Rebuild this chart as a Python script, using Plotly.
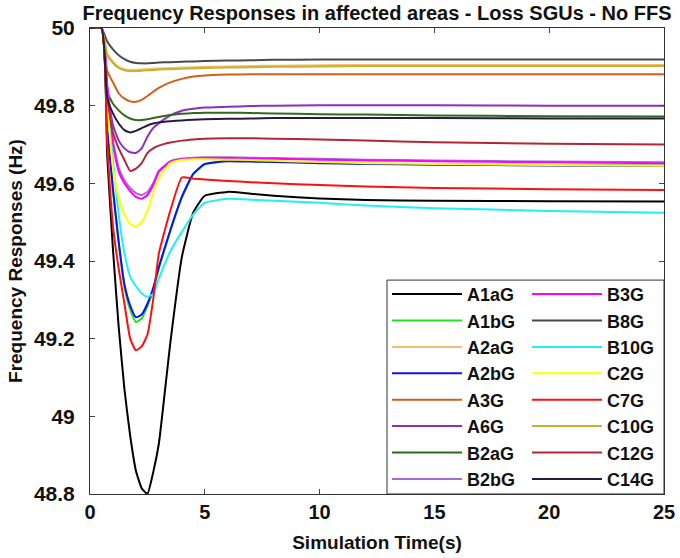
import plotly.graph_objects as go

time_s = [0, 0.5, 0.75, 1.0, 1.25, 1.5, 1.75, 2.0, 2.25, 2.5, 2.75, 3.0, 3.5, 4.0, 4.5, 5.0, 6.0, 7.0, 8.0, 10, 12, 15, 20, 25]

A1aG = [50, 50, 49.67, 49.43, 49.23, 49.07, 48.95, 48.86, 48.815, 48.80, 48.855, 48.93, 49.19, 49.41, 49.525, 49.568, 49.578, 49.573, 49.568, 49.561, 49.557, 49.555, 49.554, 49.553]
A1bG = [50, 50, 49.75, 49.58, 49.445, 49.333, 49.275, 49.243, 49.252, 49.283, 49.325, 49.381, 49.477, 49.563, 49.623, 49.649, 49.658, 49.657, 49.656, 49.653, 49.651, 49.649, 49.647, 49.646]
A2aG = [50, 50, 49.935, 49.913, 49.9, 49.894, 49.892, 49.892, 49.893, 49.894, 49.895, 49.896, 49.897, 49.898, 49.899, 49.9, 49.901, 49.902, 49.903, 49.904, 49.905, 49.905, 49.905, 49.905]
A2bG = [50, 50, 49.75, 49.585, 49.45, 49.34, 49.285, 49.255, 49.262, 49.29, 49.33, 49.385, 49.48, 49.565, 49.625, 49.65, 49.657, 49.656, 49.655, 49.652, 49.65, 49.648, 49.646, 49.645]
A3G = [50, 50, 49.89, 49.86, 49.832, 49.818, 49.811, 49.81, 49.815, 49.825, 49.836, 49.846, 49.86, 49.869, 49.875, 49.878, 49.88, 49.881, 49.881, 49.881, 49.881, 49.881, 49.881, 49.881]
A6G = [50, 50, 49.84, 49.75, 49.71, 49.69, 49.68, 49.678, 49.69, 49.72, 49.742, 49.755, 49.775, 49.787, 49.792, 49.795, 49.797, 49.799, 49.8, 49.801, 49.801, 49.801, 49.8, 49.8]
B2aG = [50, 50, 49.835, 49.805, 49.788, 49.775, 49.767, 49.763, 49.763, 49.765, 49.768, 49.771, 49.776, 49.779, 49.781, 49.782, 49.782, 49.781, 49.78, 49.778, 49.777, 49.775, 49.773, 49.772]
B2bG = [50, 50, 49.855, 49.71, 49.64, 49.608, 49.588, 49.575, 49.57, 49.578, 49.6, 49.632, 49.657, 49.664, 49.666, 49.667, 49.667, 49.666, 49.665, 49.663, 49.661, 49.659, 49.656, 49.654]
B3G = [50, 50, 49.85, 49.70, 49.63, 49.60, 49.58, 49.565, 49.56, 49.57, 49.595, 49.63, 49.655, 49.662, 49.664, 49.665, 49.665, 49.664, 49.663, 49.661, 49.659, 49.657, 49.654, 49.652]
B8G = [50, 50, 49.965, 49.945, 49.93, 49.92, 49.913, 49.91, 49.909, 49.909, 49.91, 49.911, 49.912, 49.913, 49.914, 49.915, 49.916, 49.917, 49.918, 49.919, 49.919, 49.919, 49.919, 49.919]
B10G = [50, 50, 49.80, 49.66, 49.52, 49.42, 49.36, 49.335, 49.317, 49.308, 49.315, 49.355, 49.425, 49.475, 49.52, 49.55, 49.56, 49.558, 49.555, 49.55, 49.543, 49.536, 49.529, 49.524]
C2G = [50, 50, 49.80, 49.64, 49.56, 49.52, 49.495, 49.488, 49.50, 49.53, 49.574, 49.613, 49.652, 49.66, 49.662, 49.662, 49.661, 49.66, 49.658, 49.655, 49.652, 49.65, 49.647, 49.645]
C7G = [50, 50, 49.70, 49.49, 49.38, 49.29, 49.20, 49.17, 49.18, 49.21, 49.30, 49.42, 49.53, 49.615, 49.612, 49.61, 49.606, 49.603, 49.60, 49.596, 49.592, 49.588, 49.585, 49.583]
C10G = [50, 50, 49.93, 49.91, 49.897, 49.891, 49.889, 49.889, 49.89, 49.891, 49.892, 49.893, 49.894, 49.895, 49.896, 49.897, 49.898, 49.899, 49.9, 49.901, 49.902, 49.902, 49.902, 49.902]
C12G = [50, 50, 49.82, 49.73, 49.69, 49.66, 49.632, 49.638, 49.652, 49.678, 49.69, 49.697, 49.705, 49.71, 49.713, 49.715, 49.716, 49.716, 49.715, 49.713, 49.71, 49.706, 49.702, 49.70]
C14G = [50, 50, 49.82, 49.78, 49.754, 49.737, 49.731, 49.735, 49.742, 49.749, 49.754, 49.757, 49.76, 49.762, 49.764, 49.765, 49.766, 49.767, 49.768, 49.768, 49.768, 49.768, 49.767, 49.767]

series_names = ["A1aG", "A1bG", "A2aG", "A2bG", "A3G", "A6G", "B2aG", "B2bG",
                "B3G", "B8G", "B10G", "C2G", "C7G", "C10G", "C12G", "C14G"]
series_values = [A1aG, A1bG, A2aG, A2bG, A3G, A6G, B2aG, B2bG,
                 B3G, B8G, B10G, C2G, C7G, C10G, C12G, C14G]
series_colors = ["#000000", "#22E022", "#F0C070", "#1010F0", "#D2601A", "#8A30C0", "#2E6B1E", "#A868D8",
                 "#FF00FF", "#4A4A4A", "#20F0F8", "#FFFF00", "#FF1010", "#C8B030", "#B02838", "#2A1A40"]

y_ticks = [48.8, 49, 49.2, 49.4, 49.6, 49.8, 50]
y_tick_text = ["48.8", "49", "49.2", "49.4", "49.6", "49.8", "50"]
x_ticks = [0, 5, 10, 15, 20, 25]

fig = go.Figure()
for i, (name, vals, col) in enumerate(zip(series_names, series_values, series_colors)):
    fig.add_trace(go.Scatter(
        x=time_s, y=vals, name=name, mode="lines",
        line=dict(color=col, width=2, shape="spline", smoothing=0.45),
        legend="legend" if i < 8 else "legend2",
    ))

font_family = "Liberation Sans, Arial, sans-serif"
legend_common = dict(
    orientation="v", yanchor="top", y=0.468, xanchor="left",
    itemwidth=70, bgcolor="rgba(0,0,0,0)", borderwidth=0,
    font=dict(size=18, weight="bold", color="#111111", family=font_family),
    traceorder="normal",
)
fig.update_layout(
    width=680, height=558,
    margin=dict(l=90, r=16, t=28, b=64, autoexpand=False),
    paper_bgcolor="white", plot_bgcolor="white",
    font=dict(family=font_family, color="#111111", size=16, weight="bold"),
    title=dict(text="Frequency Responses in affected areas - Loss SGUs - No FFS",
               x=0.5, xref="paper", xanchor="center", y=1 - 13 / 558, yanchor="middle",
               font=dict(size=20, weight="bold", color="#111111")),
    showlegend=True,
    legend=dict(x=0.5174, **legend_common),
    legend2=dict(x=0.7613, **legend_common),
    shapes=[dict(type="rect", xref="paper", yref="paper", x0=0.5174, x1=1.0, y0=0.0, y1=0.459,
                 line=dict(color="#333333", width=1), fillcolor="white", layer="above")],
    xaxis=dict(range=[0, 25], tickvals=x_ticks, ticks="inside", ticklen=5,
               showline=True, linecolor="#333333", linewidth=1, mirror="ticks",
               showgrid=False, zeroline=False, automargin=False,
               tickfont=dict(size=20, weight="bold"),
               title=dict(text="Simulation Time(s)", font=dict(size=19, weight="bold"), standoff=13)),
    yaxis=dict(range=[48.8, 50], tickvals=y_ticks, ticktext=y_tick_text, ticks="inside", ticklen=5,
               showline=True, linecolor="#333333", linewidth=1, mirror="ticks",
               showgrid=False, zeroline=False, ticklabelstandoff=10, automargin=False,
               tickfont=dict(size=21, weight="bold"),
               title=dict(text="Frequency Responses (Hz)", font=dict(size=19, weight="bold"), standoff=6)),
)

fig.write_html("out.html", config={"displayModeBar": False},
               post_script="document.body.style.margin='0px';")
